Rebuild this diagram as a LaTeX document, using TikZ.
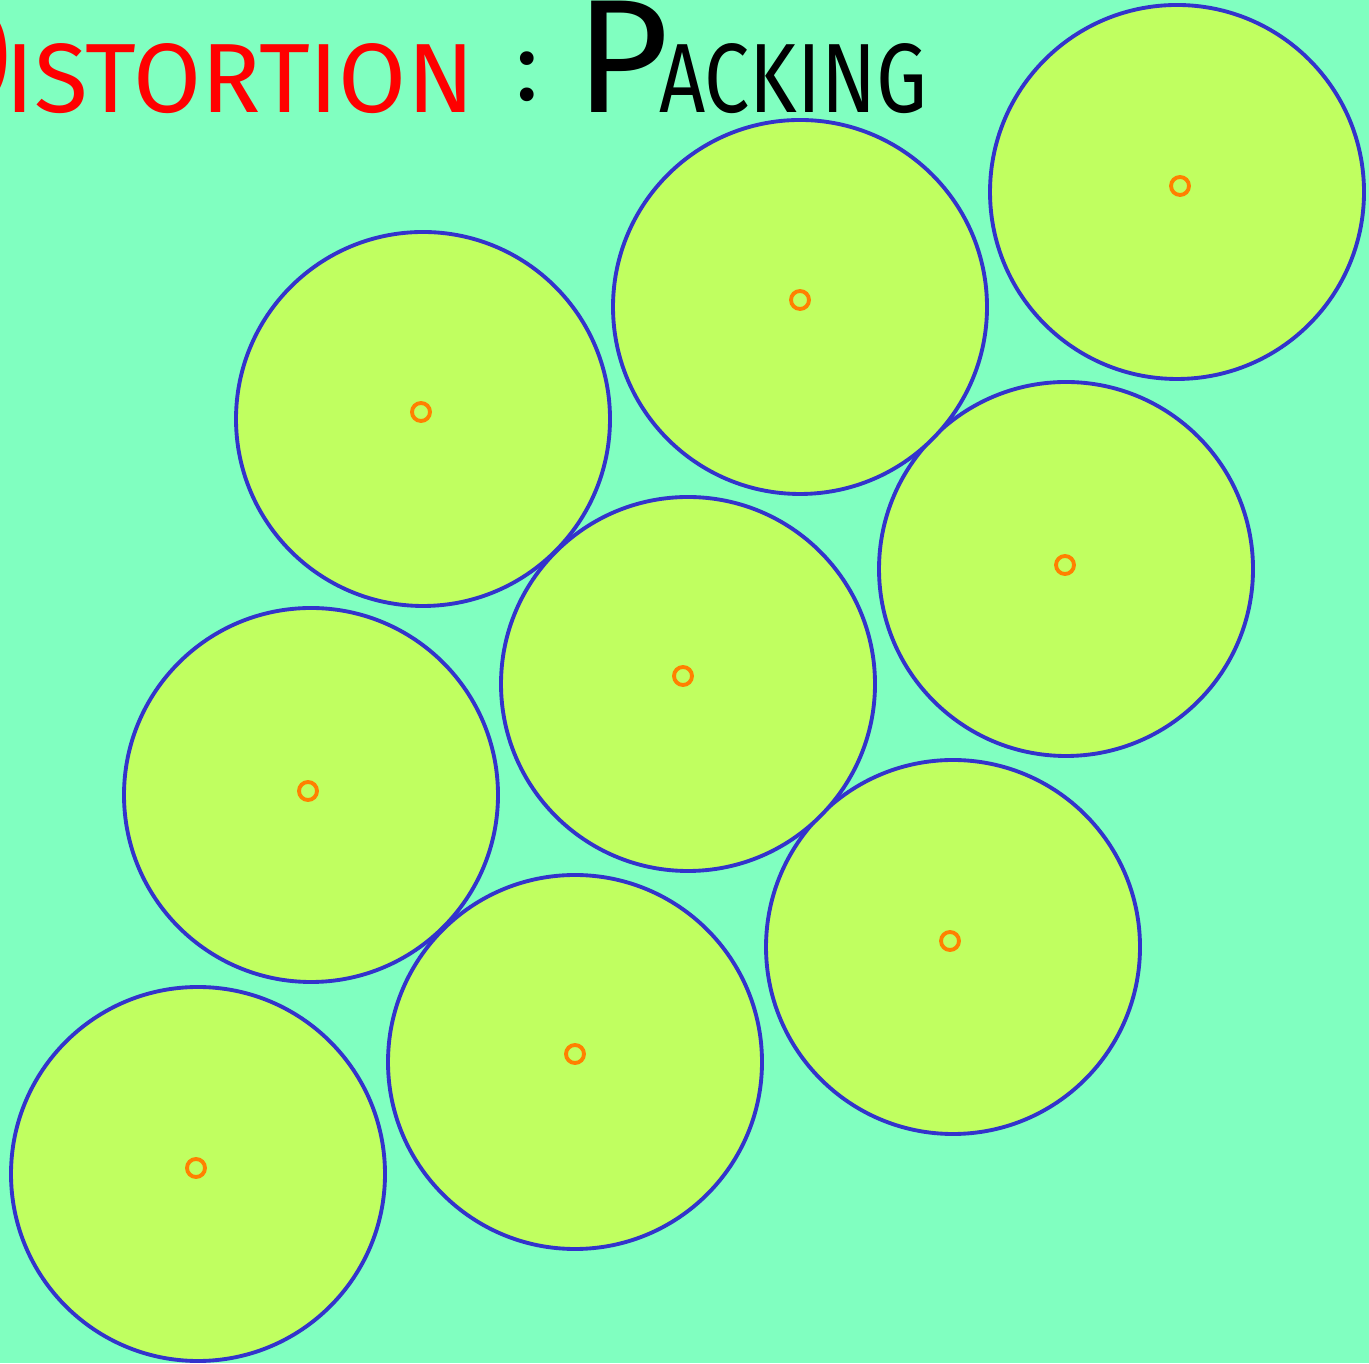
\documentclass[tikz,border=0pt]{standalone}
\usepackage{fontspec}
\setmainfont{Fira Sans}
\usetikzlibrary{positioning}
\definecolor{bggreen}{HTML}{80FFC0}
\definecolor{diskfill}{HTML}{C0FF60}
\definecolor{diskblue}{HTML}{3333CC}
\definecolor{dotorange}{HTML}{FF8000}
\newcommand{\ttlbig}[1]{{\fontsize{46}{46}\selectfont #1}}
\newcommand{\ttlsmall}[1]{{\fontsize{28}{28}\selectfont #1}}

\begin{document}
\begin{tikzpicture}[
  disk/.style={circle, draw=diskblue, fill=diskfill, line width=1.1pt,
               minimum size=3.74cm, inner sep=0pt},
  dot/.style={circle, draw=dotorange, line width=1.1pt,
              minimum size=0.18cm, inner sep=0pt},
  ttl/.style={inner sep=0pt}
]
\useasboundingbox (0,0) rectangle (13.69,13.63);
\fill[bggreen] (0,0) rectangle (13.69,13.63);

% disks: circle centre / dot centre
\foreach \n/\cx/\cy/\dx/\dy in {
    1/1.98/1.89/1.96/1.95,
    2/5.75/3.01/5.75/3.09,
    3/9.53/4.16/9.50/4.22,
    4/3.11/5.68/3.08/5.72,
    5/6.88/6.79/6.83/6.87,
    6/10.66/7.94/10.65/7.98,
    7/4.23/9.44/4.21/9.51,
    8/8.00/10.56/8.00/10.63,
    9/11.77/11.71/11.80/11.77} {
  \node[disk] (c\n) at (\cx,\cy) {};
  \node[dot] (d\n) at (\dx,\dy) {};
}

% title
\node[ttl, anchor=base east, text=red] (dist) at (4.75,12.50)
  {\ttlbig{D}\kern-3pt\ttlsmall{ISTORTION}};
\node[ttl, anchor=base] (colon) at (5.27,12.62) {\ttlsmall{:}};
\node[ttl, anchor=base west] (pack) at (5.75,12.50)
  {\ttlbig{P}\kern-3pt\ttlsmall{\scalebox{0.82}[1]{ACKING}}};

\end{tikzpicture}
\end{document}
